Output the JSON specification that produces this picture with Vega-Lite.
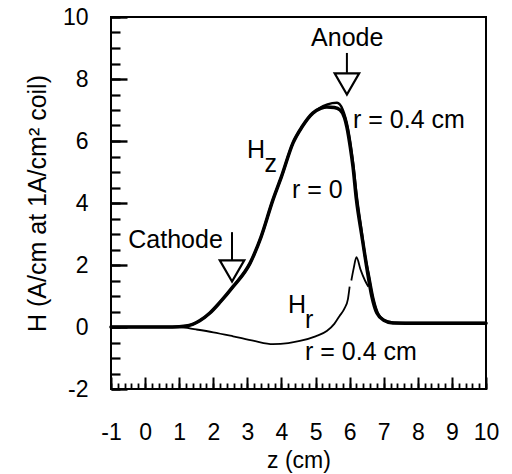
{
  "$schema": "https://vega.github.io/schema/vega-lite/v6.json",
  "width": 375,
  "height": 372,
  "autosize": {"type": "none"},
  "padding": {"left": 111, "top": 17, "right": 26, "bottom": 85},
  "background": "white",
  "config": {
    "view": {"stroke": "black", "strokeWidth": 2},
    "font": "Liberation Sans",
    "axis": {"grid": false, "domain": false, "tickColor": "black", "labelColor": "black", "titleColor": "black", "labelFont": "Liberation Sans", "titleFont": "Liberation Sans", "labelFontSize": 23, "titleFontSize": 25, "titleFontWeight": "normal", "labelOverlap": false, "labelFlush": false}
  },
  "datasets": {
    "hz0": [
      {"z": -1, "H": 0}, {"z": 0, "H": 0}, {"z": 0.8, "H": 0}, {"z": 1.2, "H": 0.03}, {"z": 1.6, "H": 0.2},
      {"z": 1.9, "H": 0.45}, {"z": 2.2, "H": 0.8}, {"z": 2.58, "H": 1.3}, {"z": 3.08, "H": 2.06}, {"z": 3.4, "H": 2.9},
      {"z": 3.75, "H": 4.1}, {"z": 4.0, "H": 4.85}, {"z": 4.34, "H": 5.94}, {"z": 4.6, "H": 6.45}, {"z": 4.92, "H": 6.9},
      {"z": 5.15, "H": 7.05}, {"z": 5.33, "H": 7.1}, {"z": 5.55, "H": 7.08}, {"z": 5.72, "H": 7.0}, {"z": 5.85, "H": 6.75},
      {"z": 5.92, "H": 6.45}, {"z": 6.02, "H": 5.8}, {"z": 6.1, "H": 5.16}, {"z": 6.2, "H": 4.1}, {"z": 6.35, "H": 3.0},
      {"z": 6.5, "H": 1.94}, {"z": 6.65, "H": 1.0}, {"z": 6.8, "H": 0.45}, {"z": 7.0, "H": 0.22}, {"z": 7.27, "H": 0.13},
      {"z": 8, "H": 0.12}, {"z": 10, "H": 0.12}
    ],
    "hz4": [
      {"z": -1, "H": 0}, {"z": 0, "H": 0}, {"z": 0.8, "H": 0}, {"z": 1.2, "H": 0.03}, {"z": 1.6, "H": 0.2},
      {"z": 1.9, "H": 0.45}, {"z": 2.2, "H": 0.8}, {"z": 2.58, "H": 1.3}, {"z": 3.08, "H": 2.06}, {"z": 3.4, "H": 2.9},
      {"z": 3.75, "H": 4.1}, {"z": 4.0, "H": 4.85}, {"z": 4.34, "H": 5.94}, {"z": 4.6, "H": 6.45}, {"z": 4.92, "H": 6.9},
      {"z": 5.1, "H": 7.05}, {"z": 5.35, "H": 7.18}, {"z": 5.63, "H": 7.23}, {"z": 5.8, "H": 7.0}, {"z": 5.95, "H": 6.4},
      {"z": 6.1, "H": 5.3}, {"z": 6.2, "H": 4.3}, {"z": 6.35, "H": 3.1}, {"z": 6.45, "H": 2.3}, {"z": 6.56, "H": 1.7},
      {"z": 6.7, "H": 0.9}, {"z": 6.85, "H": 0.4}, {"z": 7.1, "H": 0.18}, {"z": 7.5, "H": 0.13}, {"z": 10, "H": 0.13}
    ],
    "hr": [
      {"seg": "a", "z": -1, "H": 0}, {"seg": "a", "z": 0, "H": 0}, {"seg": "a", "z": 1, "H": 0}, {"seg": "a", "z": 1.5, "H": -0.08},
      {"seg": "a", "z": 2, "H": -0.17}, {"seg": "a", "z": 2.58, "H": -0.3}, {"seg": "a", "z": 3.2, "H": -0.45}, {"seg": "a", "z": 3.75, "H": -0.55},
      {"seg": "a", "z": 4.2, "H": -0.52}, {"seg": "a", "z": 4.54, "H": -0.45}, {"seg": "a", "z": 5.0, "H": -0.3}, {"seg": "a", "z": 5.33, "H": -0.13},
      {"seg": "a", "z": 5.55, "H": 0.1}, {"seg": "a", "z": 5.7, "H": 0.35}, {"seg": "a", "z": 5.85, "H": 0.6}, {"seg": "a", "z": 5.95, "H": 0.9},
      {"seg": "a", "z": 6.0, "H": 1.3},
      {"seg": "b", "z": 6.05, "H": 1.5}, {"seg": "b", "z": 6.12, "H": 1.9}, {"seg": "b", "z": 6.2, "H": 2.25}, {"seg": "b", "z": 6.32, "H": 1.85},
      {"seg": "b", "z": 6.45, "H": 1.5}, {"seg": "b", "z": 6.55, "H": 1.3}
    ],
    "arrows": [
      {"name": "Anode", "z": 5.92, "Htop": 8.84, "Hbot": 8.2, "Htri": 7.84},
      {"name": "Cathode", "z": 2.55, "Htop": 3.06, "Hbot": 2.13, "Htri": 1.81}
    ],
    "textLeft": [
      {"z": 6.1, "H": 6.68, "t": "r = 0.4 cm"},
      {"z": 4.31, "H": 4.42, "t": "r = 0"},
      {"z": 4.69, "H": -0.81, "t": "r = 0.4 cm"},
      {"z": 2.99, "H": 5.71, "t": "H"},
      {"z": 3.5, "H": 5.27, "t": "z"},
      {"z": 4.19, "H": 0.71, "t": "H"},
      {"z": 4.69, "H": 0.23, "t": "r"}
    ],
    "textCenter": [
      {"z": 5.93, "H": 9.32, "t": "Anode"}
    ],
    "textRight": [
      {"z": 2.28, "H": 2.81, "t": "Cathode"}
    ]
  },
  "resolve": {"axis": {"x": "independent", "y": "independent"}},
  "layer": [
    {
      "data": {"name": "hz0"},
      "mark": {"type": "line", "color": "black", "strokeWidth": 3.5, "interpolate": "monotone", "strokeJoin": "round", "strokeCap": "round"},
      "encoding": {
        "x": {"field": "z", "type": "quantitative", "scale": {"domain": [-1, 10], "nice": false, "zero": false},
          "axis": {
            "orient": "bottom", "title": "z (cm)", "titlePadding": 5, "titleFontSize": 23,
            "values": [-1,0,1,2,3,4,5,6,7,8,9,10],
            "labelExpr": "'' + datum.value",
            "tickSize": -12, "tickWidth": 2, "labelPadding": 44
          }},
        "y": {"field": "H", "type": "quantitative", "scale": {"domain": [-2, 10], "nice": false, "zero": false},
          "axis": {
            "orient": "left", "title": "H (A/cm at 1A/cm² coil)", "titlePadding": 12,
            "values": [-2,0,2,4,6,8,10],
            "labelExpr": "'' + datum.value",
            "tickSize": -16, "tickWidth": 2.4, "labelPadding": 39
          }}
      }
    },
    {
      "data": {"name": "hz4"},
      "mark": {"type": "line", "color": "black", "strokeWidth": 2.5, "interpolate": "monotone", "strokeJoin": "round", "strokeCap": "round"},
      "encoding": {
        "x": {"field": "z", "type": "quantitative",
          "axis": {
            "orient": "bottom", "title": null, "labels": false,
            "values": [-1,-0.8,-0.6,-0.4,-0.2,0,0.2,0.4,0.6,0.8,1,1.2,1.4,1.6,1.8,2,2.2,2.4,2.6,2.8,3,3.2,3.4,3.6,3.8,4,4.2,4.4,4.6,4.8,5,5.2,5.4,5.6,5.8,6,6.2,6.4,6.6,6.8,7,7.2,7.4,7.6,7.8,8,8.2,8.4,8.6,8.8,9,9.2,9.4,9.6,9.8,10],
            "tickSize": -6, "tickWidth": 1.8
          }},
        "y": {"field": "H", "type": "quantitative",
          "axis": {
            "orient": "left", "title": null, "labels": false,
            "values": [-2,-1.5,-1,-0.5,0,0.5,1,1.5,2,2.5,3,3.5,4,4.5,5,5.5,6,6.5,7,7.5,8,8.5,9,9.5,10],
            "tickSize": -9, "tickWidth": 2.2
          }}
      }
    },
    {
      "data": {"name": "hr"},
      "mark": {"type": "line", "color": "black", "strokeWidth": 1.8, "interpolate": "monotone", "strokeJoin": "round"},
      "encoding": {"x": {"field": "z", "type": "quantitative", "axis": null}, "y": {"field": "H", "type": "quantitative", "axis": null}, "detail": {"field": "seg"}}
    },
    {
      "data": {"name": "arrows"},
      "mark": {"type": "rule", "color": "black", "strokeWidth": 2},
      "encoding": {"x": {"field": "z", "type": "quantitative", "axis": null}, "y": {"field": "Htop", "type": "quantitative", "axis": null}, "y2": {"field": "Hbot"}}
    },
    {
      "data": {"name": "arrows"},
      "mark": {"type": "point", "shape": "triangle-down", "filled": false, "stroke": "black", "strokeWidth": 2.2, "size": 600, "opacity": 1},
      "encoding": {"x": {"field": "z", "type": "quantitative", "axis": null}, "y": {"field": "Htri", "type": "quantitative", "axis": null}}
    },
    {
      "data": {"name": "textLeft"},
      "mark": {"type": "text", "align": "left", "baseline": "middle", "fontSize": 25, "font": "Liberation Sans", "color": "black"},
      "encoding": {"x": {"field": "z", "type": "quantitative", "axis": null}, "y": {"field": "H", "type": "quantitative", "axis": null}, "text": {"field": "t"}}
    },
    {
      "data": {"name": "textCenter"},
      "mark": {"type": "text", "align": "center", "baseline": "middle", "fontSize": 25, "font": "Liberation Sans", "color": "black"},
      "encoding": {"x": {"field": "z", "type": "quantitative", "axis": null}, "y": {"field": "H", "type": "quantitative", "axis": null}, "text": {"field": "t"}}
    },
    {
      "data": {"name": "textRight"},
      "mark": {"type": "text", "align": "right", "baseline": "middle", "fontSize": 25, "font": "Liberation Sans", "color": "black"},
      "encoding": {"x": {"field": "z", "type": "quantitative", "axis": null}, "y": {"field": "H", "type": "quantitative", "axis": null}, "text": {"field": "t"}}
    }
  ]
}
